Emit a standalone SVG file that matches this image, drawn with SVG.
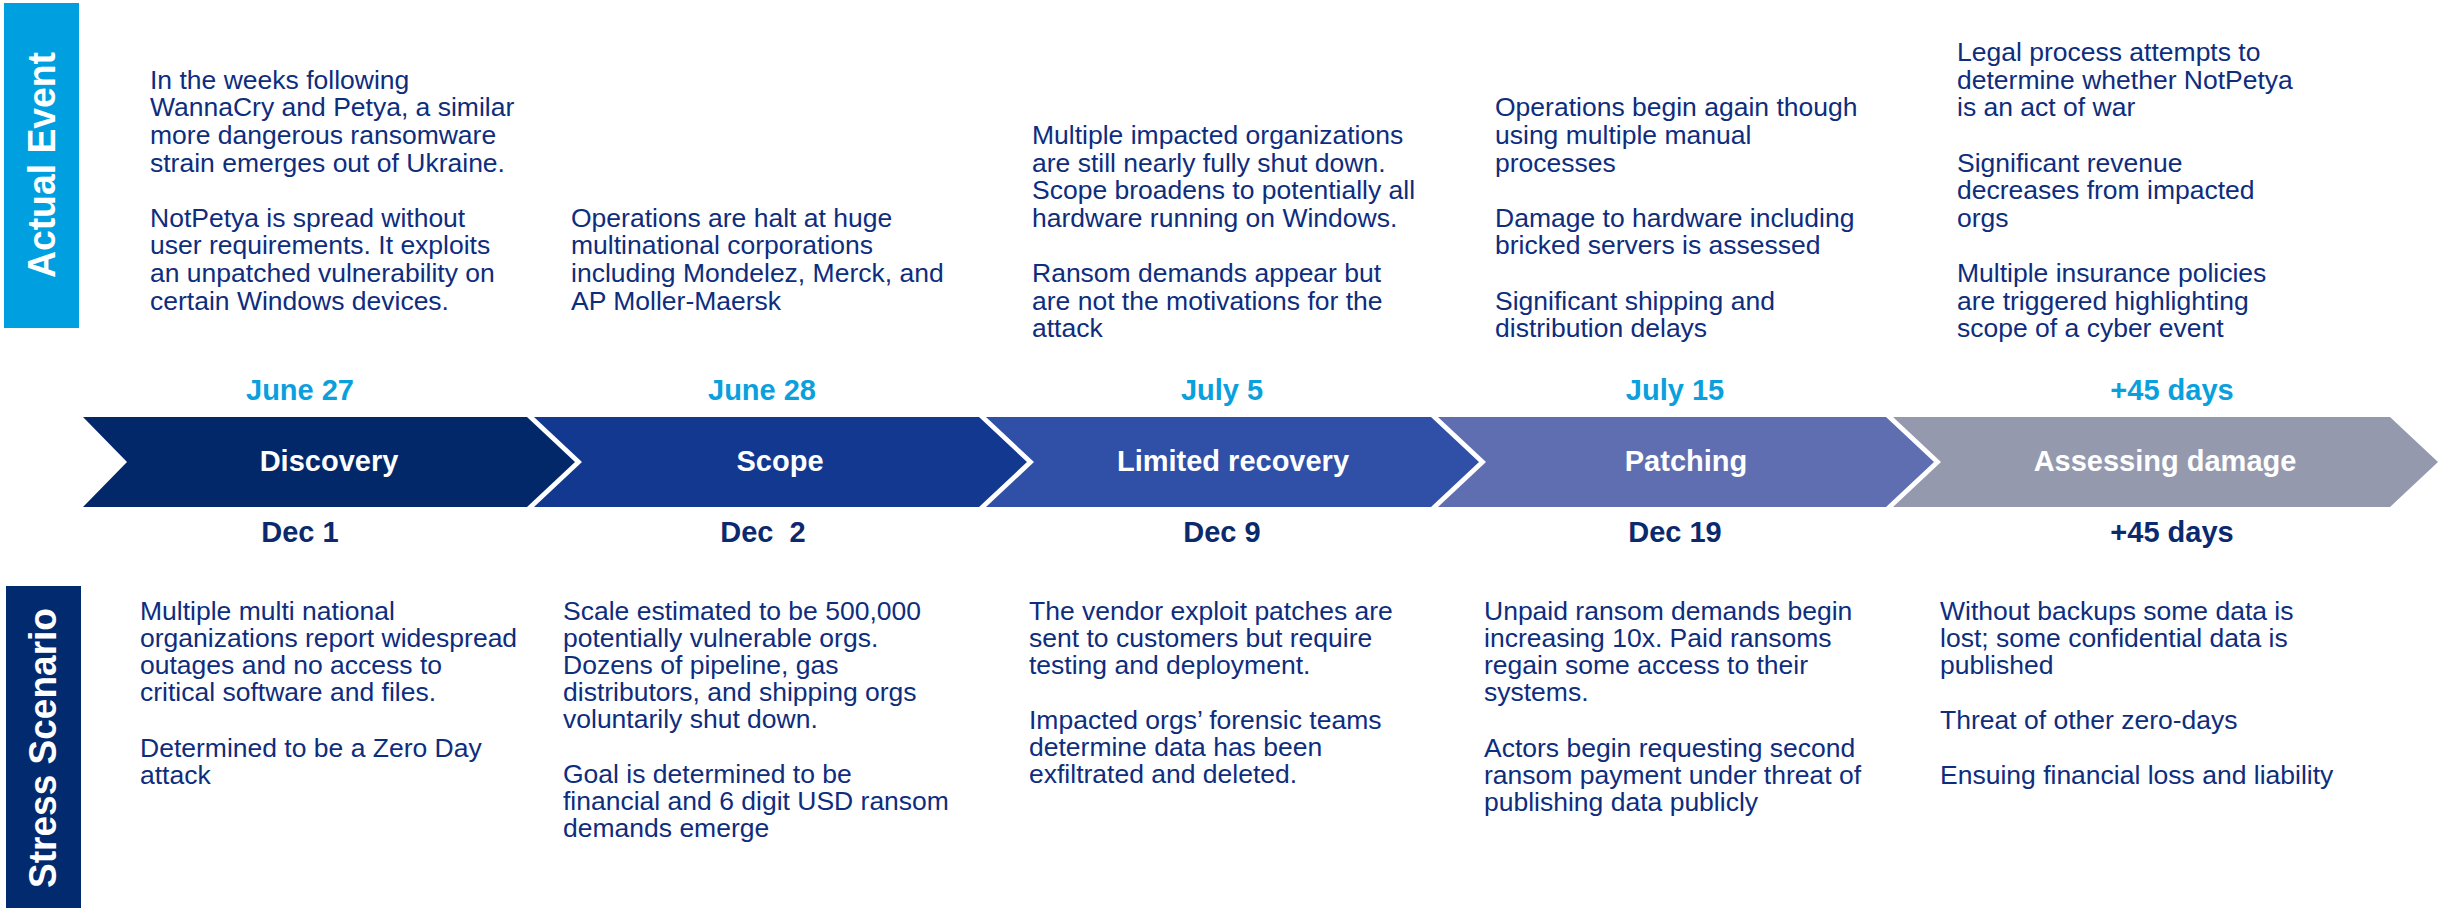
<svg xmlns="http://www.w3.org/2000/svg" width="2445" height="908" viewBox="0 0 2445 908">
<style>
.side{fill:#ffffff;font-family:"Liberation Sans",Arial,sans-serif;font-weight:bold;font-size:39px;text-anchor:middle}
.stage{fill:#ffffff;font-family:"Liberation Sans",Arial,sans-serif;font-weight:bold;font-size:29px;text-anchor:middle}
.dtop{fill:#0AA0DD;font-family:"Liberation Sans",Arial,sans-serif;font-weight:bold;font-size:29px;text-anchor:middle}
.dbot{fill:#0B2A6E;font-family:"Liberation Sans",Arial,sans-serif;font-weight:bold;font-size:29px;text-anchor:middle}
.body{fill:#0E2D7D;font-family:"Liberation Sans",Arial,sans-serif;font-size:26.5px}
</style>
<rect width="2445" height="908" fill="#ffffff"/>
<g id="connectors"></g>

<g id="bar-actual">
<rect x="4" y="3" width="75" height="325" fill="#009FDF"/>
<text class="side" transform="translate(54.5,165) rotate(-90)" textLength="226" lengthAdjust="spacingAndGlyphs">Actual Event</text>
</g>
<g id="bar-stress">
<rect x="6" y="586" width="75" height="322" fill="#022A6F"/>
<text class="side" transform="translate(56,748) rotate(-90)" textLength="280" lengthAdjust="spacingAndGlyphs">Stress Scenario</text>
</g>

<g id="stage-discovery">
<polygon points="83,417 527,417 575,462 527,507 83,507 127,462" fill="#02286A"/>
<text class="stage" x="329" y="471">Discovery</text>
<text class="dtop" x="300" y="400">June 27</text>
<text class="dbot" x="300" y="542">Dec 1</text>
</g>
<g id="stage-scope">
<polygon points="534,417 979,417 1027,462 979,507 534,507 582,462" fill="#13388F"/>
<text class="stage" x="780" y="471">Scope</text>
<text class="dtop" x="762" y="400">June 28</text>
<text class="dbot" x="763" y="542">Dec&#160; 2</text>
</g>
<g id="stage-limited-recovery">
<polygon points="986,417 1431,417 1479,462 1431,507 986,507 1034,462" fill="#3050A8"/>
<text class="stage" x="1233" y="471">Limited recovery</text>
<text class="dtop" x="1222" y="400">July 5</text>
<text class="dbot" x="1222" y="542">Dec 9</text>
</g>
<g id="stage-patching">
<polygon points="1438,417 1886,417 1934,462 1886,507 1438,507 1486,462" fill="#5E6EB1"/>
<text class="stage" x="1686" y="471">Patching</text>
<text class="dtop" x="1675" y="400">July 15</text>
<text class="dbot" x="1675" y="542">Dec 19</text>
</g>
<g id="stage-assessing-damage">
<polygon points="1893,417 2390,417 2438,462 2390,507 1893,507 1941,462" fill="#9599AE"/>
<text class="stage" x="2165" y="471">Assessing damage</text>
<text class="dtop" x="2172" y="400">+45 days</text>
<text class="dbot" x="2172" y="542">+45 days</text>
</g>

<g id="actual-1">
<text class="body">
<tspan x="150" y="88.7">In the weeks following</tspan>
<tspan x="150" y="116.3">WannaCry and Petya, a similar</tspan>
<tspan x="150" y="143.9">more dangerous ransomware</tspan>
<tspan x="150" y="171.5">strain emerges out of Ukraine.</tspan>
<tspan x="150" y="226.7">NotPetya is spread without</tspan>
<tspan x="150" y="254.3">user requirements. It exploits</tspan>
<tspan x="150" y="281.9">an unpatched vulnerability on</tspan>
<tspan x="150" y="309.5">certain Windows devices.</tspan>
</text>
</g>
<g id="actual-2">
<text class="body">
<tspan x="571" y="226.7">Operations are halt at huge</tspan>
<tspan x="571" y="254.3">multinational corporations</tspan>
<tspan x="571" y="281.9">including Mondelez, Merck, and</tspan>
<tspan x="571" y="309.5">AP Moller-Maersk</tspan>
</text>
</g>
<g id="actual-3">
<text class="body">
<tspan x="1032" y="143.9">Multiple impacted organizations</tspan>
<tspan x="1032" y="171.5">are still nearly fully shut down.</tspan>
<tspan x="1032" y="199.1">Scope broadens to potentially all</tspan>
<tspan x="1032" y="226.7">hardware running on Windows.</tspan>
<tspan x="1032" y="281.9">Ransom demands appear but</tspan>
<tspan x="1032" y="309.5">are not the motivations for the</tspan>
<tspan x="1032" y="337.1">attack</tspan>
</text>
</g>
<g id="actual-4">
<text class="body">
<tspan x="1495" y="116.3">Operations begin again though</tspan>
<tspan x="1495" y="143.9">using multiple manual</tspan>
<tspan x="1495" y="171.5">processes</tspan>
<tspan x="1495" y="226.7">Damage to hardware including</tspan>
<tspan x="1495" y="254.3">bricked servers is assessed</tspan>
<tspan x="1495" y="309.5">Significant shipping and</tspan>
<tspan x="1495" y="337.1">distribution delays</tspan>
</text>
</g>
<g id="actual-5">
<text class="body">
<tspan x="1957" y="61.1">Legal process attempts to</tspan>
<tspan x="1957" y="88.7">determine whether NotPetya</tspan>
<tspan x="1957" y="116.3">is an act of war</tspan>
<tspan x="1957" y="171.5">Significant revenue</tspan>
<tspan x="1957" y="199.1">decreases from impacted</tspan>
<tspan x="1957" y="226.7">orgs</tspan>
<tspan x="1957" y="281.9">Multiple insurance policies</tspan>
<tspan x="1957" y="309.5">are triggered highlighting</tspan>
<tspan x="1957" y="337.1">scope of a cyber event</tspan>
</text>
</g>

<g id="stress-1">
<text class="body">
<tspan x="140" y="619.5">Multiple multi national</tspan>
<tspan x="140" y="646.7">organizations report widespread</tspan>
<tspan x="140" y="673.9">outages and no access to</tspan>
<tspan x="140" y="701.1">critical software and files.</tspan>
<tspan x="140" y="756.5">Determined to be a Zero Day</tspan>
<tspan x="140" y="783.7">attack</tspan>
</text>
</g>
<g id="stress-2">
<text class="body">
<tspan x="563" y="619.5">Scale estimated to be 500,000</tspan>
<tspan x="563" y="646.7">potentially vulnerable orgs.</tspan>
<tspan x="563" y="673.9">Dozens of pipeline, gas</tspan>
<tspan x="563" y="701.1">distributors, and shipping orgs</tspan>
<tspan x="563" y="728.3">voluntarily shut down.</tspan>
<tspan x="563" y="782.7">Goal is determined to be</tspan>
<tspan x="563" y="809.9">financial and 6 digit USD ransom</tspan>
<tspan x="563" y="837.1">demands emerge</tspan>
</text>
</g>
<g id="stress-3">
<text class="body">
<tspan x="1029" y="619.5">The vendor exploit patches are</tspan>
<tspan x="1029" y="646.7">sent to customers but require</tspan>
<tspan x="1029" y="673.9">testing and deployment.</tspan>
<tspan x="1029" y="728.9">Impacted orgs’ forensic teams</tspan>
<tspan x="1029" y="756.1">determine data has been</tspan>
<tspan x="1029" y="783.3">exfiltrated and deleted.</tspan>
</text>
</g>
<g id="stress-4">
<text class="body">
<tspan x="1484" y="619.5">Unpaid ransom demands begin</tspan>
<tspan x="1484" y="646.7">increasing 10x. Paid ransoms</tspan>
<tspan x="1484" y="673.9">regain some access to their</tspan>
<tspan x="1484" y="701.1">systems.</tspan>
<tspan x="1484" y="756.5">Actors begin requesting second</tspan>
<tspan x="1484" y="783.7">ransom payment under threat of</tspan>
<tspan x="1484" y="810.9">publishing data publicly</tspan>
</text>
</g>
<g id="stress-5">
<text class="body">
<tspan x="1940" y="619.5">Without backups some data is</tspan>
<tspan x="1940" y="646.7">lost; some confidential data is</tspan>
<tspan x="1940" y="673.9">published</tspan>
<tspan x="1940" y="729.1">Threat of other zero-days</tspan>
<tspan x="1940" y="784.3">Ensuing financial loss and liability</tspan>
</text>
</g>
</svg>
